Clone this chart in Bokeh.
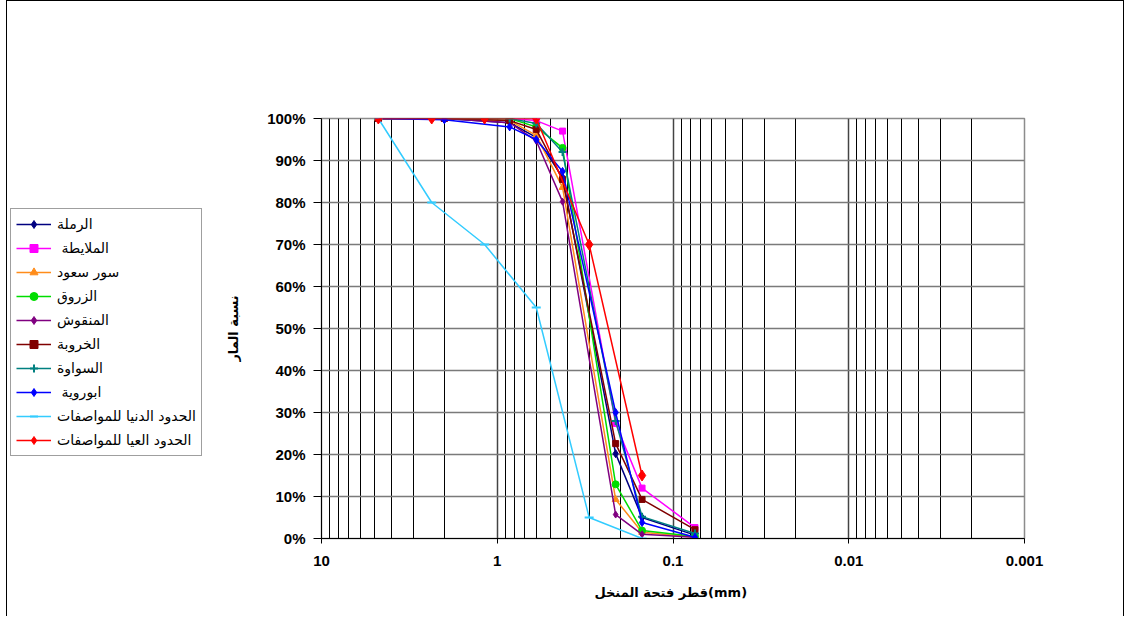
from bokeh.plotting import figure
from bokeh.models import Range1d, FixedTicker, NumeralTickFormatter, Legend, LegendItem
from bokeh.layouts import row
from bokeh.embed import file_html
from bokeh.resources import INLINE

# ---------------- data ----------------
sample_sieves = [4.75, 2.0, 0.85, 0.6, 0.425, 0.212, 0.15, 0.075]
ramla = [100, 100, 99, 95.5, 86, 20.2, 5, 0.8]
mlaita = [100, 100, 100, 99.5, 97, 27.4, 12, 2.6]
sour_saoud = [100, 100, 99.5, 96, 83.6, 9.3, 1.5, 0.3]
zarroug = [100, 100, 100, 98, 93, 12.9, 1.9, 0.5]
mangoush = [100, 100, 99, 94.7, 80.2, 5.7, 1, 0.3]
kharouba = [100, 100, 99.5, 97.4, 85.5, 22.6, 9.3, 2.1]
sawawa = [100, 100, 100, 98.8, 92, 28, 5.2, 1.2]
abourawia = [100, 99.7, 98, 95, 87.4, 30, 3.8, 0.3]

spec_sieves = [4.75, 2.36, 1.18, 0.6, 0.3, 0.15]
spec_lower = [100, 80, 70, 55, 5, 0]
spec_upper = [100, 100, 100, 100, 70, 15]

x_ticks = [10, 1, 0.1, 0.01, 0.001]
y_ticks = [0, 0.1, 0.2, 0.3, 0.4, 0.5, 0.6, 0.7, 0.8, 0.9, 1.0]

series = [
    ("الرملة", sample_sieves, ramla, "#000080", "diamond", 8),
    (" الملايطة", sample_sieves, mlaita, "#FF00FF", "square", 6),
    ("سور سعود", sample_sieves, sour_saoud, "#FF8C1A", "triangle", 7),
    ("الزروق", sample_sieves, zarroug, "#00DD00", "circle", 7),
    ("المنقوش", sample_sieves, mangoush, "#800080", "diamond", 7),
    ("الخروبة", sample_sieves, kharouba, "#800000", "square", 6),
    ("السواوة", sample_sieves, sawawa, "#008080", "cross", 8),
    (" ابوروية", sample_sieves, abourawia, "#0000FF", "diamond", 8),
    ("الحدود الدنيا للمواصفات", spec_sieves, spec_lower, "#33CCFF", "dash", 9),
    ("الحدود العيا للمواصفات", spec_sieves, spec_upper, "#FF0000", "diamond", 11),
]

# ---------------- main chart ----------------
p = figure(width=900, height=615, x_axis_type="log",
           x_range=Range1d(10, 0.001), y_range=Range1d(0, 1),
           output_backend="svg", toolbar_location=None,
           min_border_left=97, min_border_right=99,
           min_border_top=117, min_border_bottom=78)
p.background_fill_color = "white"
p.border_fill_color = "white"
p.outline_line_color = "#8c8c8c"
p.outline_line_width = 1.5

minor = []
for d in [1, 0.1, 0.01, 0.001]:
    for k in range(2, 10):
        minor.append(k * d)
p.xaxis.ticker = FixedTicker(ticks=x_ticks, minor_ticks=minor)
p.xgrid.ticker = FixedTicker(ticks=x_ticks, minor_ticks=minor)
p.xgrid.grid_line_color = "#444444"
p.xgrid.grid_line_width = 1.5
p.xgrid.minor_grid_line_color = "black"
p.xgrid.minor_grid_line_width = 1
p.yaxis.ticker = FixedTicker(ticks=y_ticks)
p.ygrid.ticker = FixedTicker(ticks=y_ticks)
p.ygrid.grid_line_color = "#7a7a7a"
p.ygrid.grid_line_width = 1.5

p.xaxis.formatter = NumeralTickFormatter(format="0.[000]")
p.yaxis.formatter = NumeralTickFormatter(format="0%")
for ax in (p.xaxis[0], p.yaxis[0]):
    ax.axis_line_color = "black"
    ax.major_tick_line_color = "black"
    ax.minor_tick_out = 0
    ax.minor_tick_in = 0
    ax.major_tick_in = 0
    ax.major_label_text_font = "Liberation Sans"
    ax.major_label_text_font_style = "bold"
    ax.major_label_text_font_size = "15px"
    ax.major_label_text_color = "black"
    ax.axis_label_text_font = "DejaVu Sans"
    ax.axis_label_text_font_style = "bold"
    ax.axis_label_text_font_size = "13px"
    ax.axis_label_text_color = "black"
p.xaxis.major_tick_out = 5
p.xaxis.major_label_standoff = 12
p.yaxis.major_tick_out = 8
p.yaxis.major_label_standoff = 8
p.xaxis.axis_label = "قطر  فتحة المنخل(mm)"
p.xaxis.axis_label_standoff = 16
p.yaxis.axis_label = "نسبة المار"
p.yaxis.axis_label_standoff = 23

# ---------------- legend panel (data kept off-screen, only legend shows) ----------------
lf = figure(width=216, height=615, x_axis_type="log",
            x_range=Range1d(1000, 2000), y_range=Range1d(5, 6),
            output_backend="svg", toolbar_location=None,
            min_border=0, min_border_left=0, min_border_right=0,
            min_border_top=117, min_border_bottom=78)
lf.axis.visible = False
lf.grid.visible = False
lf.outline_line_color = None
lf.background_fill_color = "white"
lf.border_fill_color = "white"

items = []
for name, xs, ys, color, marker, size in series:
    yv = [v / 100.0 for v in ys]
    p.line(xs, yv, line_color=color, line_width=1.5)
    if marker in ("cross", "dash"):
        p.scatter(xs, yv, marker=marker, size=size, line_color=color, line_width=2)
        lm = lf.scatter(xs, yv, marker=marker, size=size, line_color=color, line_width=2)
    else:
        p.scatter(xs, yv, marker=marker, size=size, fill_color=color, line_color=color)
        lm = lf.scatter(xs, yv, marker=marker, size=size, fill_color=color, line_color=color)
    ll = lf.line(xs, yv, line_color=color, line_width=1.5)
    items.append(LegendItem(label=name, renderers=[ll, lm]))

legend = Legend(items=items, location=(3, 82))
legend.label_text_font = "DejaVu Sans"
legend.label_text_font_size = "14px"
legend.label_text_color = "black"
legend.glyph_width = 35
legend.glyph_height = 20
legend.label_height = 20
legend.label_standoff = 6
legend.spacing = 4
legend.padding = 5
legend.margin = 0
legend.border_line_color = "#404040"
legend.border_line_width = 1.5
legend.background_fill_alpha = 1
lf.add_layout(legend)

layout = row(lf, p, spacing=0)
layout.styles = {"margin-left": "6px", "border-left": "1px solid black",
                 "border-top": "1px solid black", "border-right": "1px solid black"}

open("out.html", "w").write(file_html(layout, INLINE))
